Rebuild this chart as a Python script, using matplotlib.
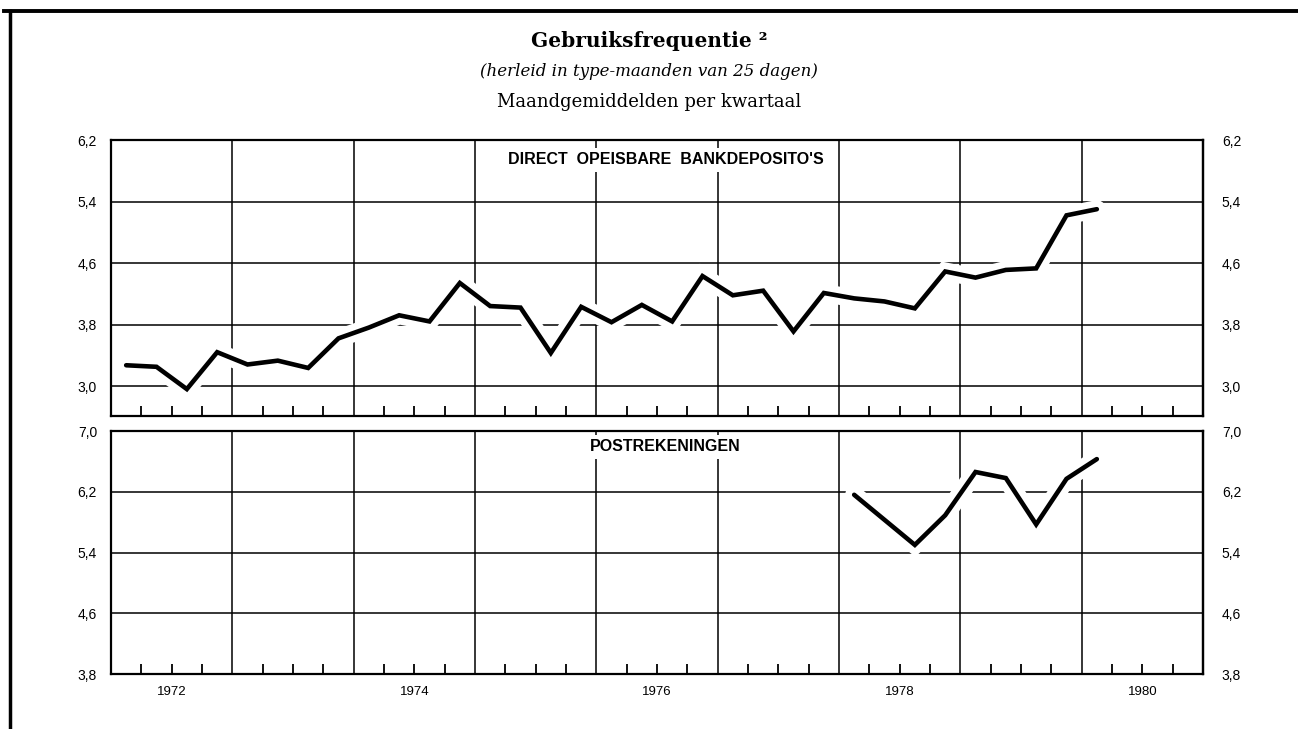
import numpy as np
import matplotlib.pyplot as plt
import matplotlib.patheffects as pe
from matplotlib.lines import Line2D
from matplotlib.ticker import FixedLocator, FuncFormatter

# kwartaalgegevens (maandgemiddelden)
bank_start = 1972
bank = [3.27, 3.25, 2.96, 3.44, 3.28, 3.33, 3.235, 3.62,
        3.76, 3.92, 3.84, 4.34, 4.04, 4.02, 3.43, 4.03,
        3.83, 4.055, 3.84, 4.43, 4.18, 4.24, 3.71, 4.21,
        4.14, 4.10, 4.01, 4.49, 4.41, 4.51, 4.53, 5.22,
        5.30]
post_start = 1978
post = [6.16, 5.83, 5.50, 5.89, 6.46, 6.38, 5.77, 6.37, 6.63]

years = list(range(1972, 1982))
label_years = [1972, 1974, 1976, 1978, 1980]
bank_ticks = [3.0, 3.8, 4.6, 5.4, 6.2]
post_ticks = [3.8, 4.6, 5.4, 6.2, 7.0]

title = "Gebruiksfrequentie \u00b2"
subtitle = "(herleid in type-maanden van 25 dagen)"
subtitle2 = "Maandgemiddelden per kwartaal"


def quarter_x(start_year, n):
    # punt in het midden van elk kwartaal
    return np.array([start_year + (i + 0.5) / 4 for i in range(n)])


def comma(v, pos):
    return f"{v:.1f}".replace(".", ",")


def style_panel(ax, yticks, ylim, label, label_y):
    ax.set_xlim(years[0], years[-1])
    ax.set_ylim(*ylim)
    ax.set_axisbelow(True)
    ax.xaxis.set_major_locator(FixedLocator(years))
    quarters = [y + q / 4 for y in years[:-1] for q in (1, 2, 3)]
    ax.xaxis.set_minor_locator(FixedLocator(quarters))
    ax.tick_params(axis="x", which="major", length=0, labelbottom=False)
    ax.tick_params(axis="x", which="minor", direction="in", length=7, width=1.3)
    ax.yaxis.set_major_locator(FixedLocator(yticks))
    ax.yaxis.set_major_formatter(FuncFormatter(comma))
    ax.tick_params(axis="y", length=0, pad=10, labelsize=10)
    # rechteras met dezelfde schaal
    sec = ax.secondary_yaxis("right")
    sec.yaxis.set_major_locator(FixedLocator(yticks))
    sec.yaxis.set_major_formatter(FuncFormatter(comma))
    sec.tick_params(axis="y", length=0, pad=13.5, labelsize=10)
    sec.spines["right"].set_linewidth(1.6)
    ax.grid(True, which="major", color="black", lw=1.1)
    for s in ax.spines.values():
        s.set_linewidth(1.6)
        s.set_zorder(3)
    ax.text(np.mean(years) + 0.07, label_y, label, ha="center", va="center",
            fontsize=11.5, fontweight="bold", family="Liberation Sans",
            bbox=dict(facecolor="white", edgecolor="none", pad=3), zorder=4)


def draw_series(ax, x, y):
    ax.plot(x, y, color="black", lw=3.3, solid_joinstyle="miter",
            solid_capstyle="round", zorder=2,
            path_effects=[pe.Stroke(linewidth=13, foreground="white"), pe.Normal()])


plt.rcParams["font.family"] = ["Liberation Sans", "DejaVu Sans"]
fig = plt.figure(figsize=(12.98, 7.29), dpi=100)

ax1 = fig.add_axes([111 / 1298, 1 - 416 / 729, 1092 / 1298, 276 / 729])
ax2 = fig.add_axes([111 / 1298, 1 - 674 / 729, 1092 / 1298, 243 / 729])

style_panel(ax1, bank_ticks, (2.61, 6.2), "DIRECT  OPEISBARE  BANKDEPOSITO'S", 5.94)
style_panel(ax2, post_ticks, (3.8, 7.0), "POSTREKENINGEN", 6.79)

draw_series(ax1, quarter_x(bank_start, len(bank)), bank)
draw_series(ax2, quarter_x(post_start, len(post)), post)

for yr in label_years:
    ax2.text(yr + 0.5, -0.073, str(yr), transform=ax2.get_xaxis_transform(),
             ha="center", va="center", fontsize=9.5)

fig.text(0.5, 1 - 41 / 729, title, ha="center", va="center",
         family="DejaVu Serif", fontweight="bold", fontsize=14.5)
fig.text(0.5, 1 - 72 / 729, subtitle, ha="center", va="center",
         family="DejaVu Serif", style="italic", fontsize=12)
fig.text(0.5, 1 - 102 / 729, subtitle2, ha="center", va="center",
         family="DejaVu Serif", fontsize=13)

# kader links en boven
fig.add_artist(Line2D([4 / 1298, 1], [1 - 11 / 729] * 2, color="black", lw=2.8))
fig.add_artist(Line2D([10 / 1298] * 2, [0, 1 - 11 / 729], color="black", lw=2.5))

fig.savefig("out.png", dpi=100)
